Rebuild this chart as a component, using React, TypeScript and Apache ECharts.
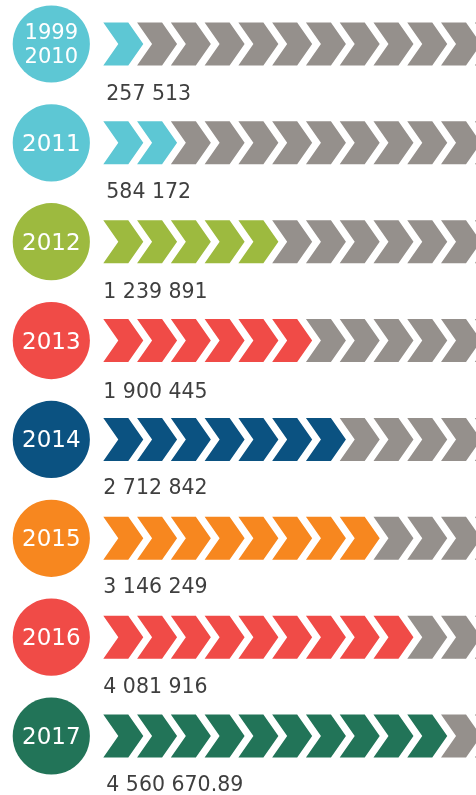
import React, { useEffect, useRef } from 'react';
import * as echarts from 'echarts';

// ---- data ----
const yearLabels = ['1999\n2010', '2011', '2012', '2013', '2014', '2015', '2016', '2017'];
const filledChevrons = [1, 2, 5, 6, 7, 8, 9, 10];
const totalValues = [257513, 584172, 1239891, 1900445, 2712842, 3146249, 4081916, 4560670.89];
const rowColors = ['#5DC7D4', '#5DC7D4', '#9DBA3F', '#F04B47', '#0B5281', '#F7871F', '#F04B47', '#227458'];

// ---- layout (not data) ----
const TOTAL_CHEVRONS = 12;
const GRAY = '#95908C';
const labelShiftX = [3, 3, 0, 0, 0, 0, 0, 3];
const labelShiftY = [0, -1, 0, 1, -1, -1, 0, -1];

function formatValue(v: number): string {
  const s = String(v);
  const [ip, dp] = s.split('.');
  const grouped = ip.replace(/\B(?=(\d{3})+(?!\d))/g, ' ');
  return dp ? grouped + '.' + dp : grouped;
}

export default function App() {
  const ref = useRef<HTMLDivElement>(null);
  useEffect(() => {
    const chart = echarts.init(ref.current!, null, { renderer: 'svg' });
    const data = filledChevrons.map((f, i) => [i, f]);
    chart.setOption({
      animation: false,
      grid: { left: 103.3, right: 1.2, top: 44, bottom: 59 },
      xAxis: { type: 'value', min: 0, max: 11, show: false },
      yAxis: { type: 'value', min: 0, max: 7, inverse: true, show: false },
      series: [
        {
          type: 'custom',
          clip: false,
          silent: true,
          data,
          renderItem: (params: any, api: any) => {
            const i = params.dataIndex;
            const row = api.value(0);
            const filled = api.value(1);
            const base = api.coord([0, row]);
            const yc = base[1];
            const children: any[] = [];
            const cx = base[0] - 52;
            children.push({
              type: 'circle',
              shape: { cx, cy: yc, r: 38.6 },
              style: { fill: rowColors[i] },
            });
            const twoLine = yearLabels[i].includes('\n');
            children.push({
              type: 'text',
              style: {
                x: cx,
                y: yc,
                text: yearLabels[i],
                fill: '#ffffff',
                fontFamily: 'DejaVu Sans',
                fontSize: twoLine ? 21 : 23,
                lineHeight: twoLine ? 23.5 : 26,
                align: 'center',
                verticalAlign: 'middle',
              },
            });
            for (let k = 0; k < TOTAL_CHEVRONS; k++) {
              const p = api.coord([k, row]);
              const x0 = p[0];
              const h = 21.5;
              children.push({
                type: 'polygon',
                shape: {
                  points: [
                    [x0, yc - h],
                    [x0 + 25, yc - h],
                    [x0 + 40, yc],
                    [x0 + 25, yc + h],
                    [x0, yc + h],
                    [x0 + 15, yc],
                  ],
                },
                style: { fill: k < filled ? rowColors[i] : GRAY },
              });
            }
            children.push({
              type: 'text',
              style: {
                x: base[0] + labelShiftX[i],
                y: yc + 49 + labelShiftY[i],
                text: formatValue(totalValues[i]),
                fill: '#3F3F3F',
                fontFamily: 'DejaVu Sans',
                fontSize: 20.5,
                align: 'left',
                verticalAlign: 'middle',
              },
            });
            return { type: 'group', children };
          },
        },
      ],
    });
    return () => chart.dispose();
  }, []);
  return (
    <div
      ref={ref}
      style={{ position: 'fixed', left: 0, top: 0, width: 476, height: 795 }}
    />
  );
}
